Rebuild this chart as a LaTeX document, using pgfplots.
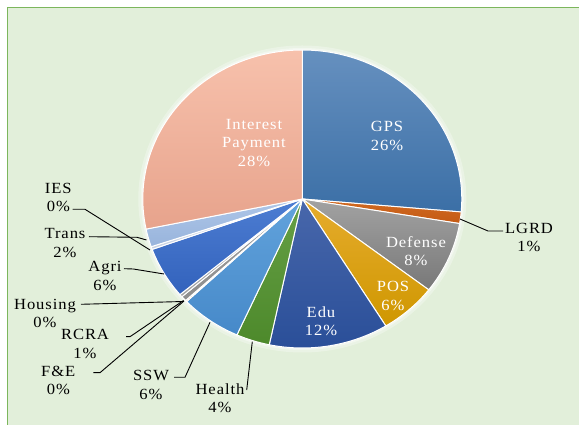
\documentclass[border=0pt]{standalone}
\usepackage{fontspec}
\newfontfamily\labfont{Liberation Serif}[FakeStretch=1.07,LetterSpace=6]
\usepackage{pgfplots}
\usepackage{pgfplotstable}
\pgfplotsset{compat=1.18}

\definecolor{bgc}{HTML}{E2EFDA}
\definecolor{framec}{HTML}{7CB65C}
% slice colours, top and bottom of each gradient, in table order
\definecolor{pieT0}{HTML}{6690BF}\definecolor{pieB0}{HTML}{3B6FA6}
\definecolor{pieT1}{HTML}{D06A22}\definecolor{pieB1}{HTML}{C45A14}
\definecolor{pieT2}{HTML}{A2A2A2}\definecolor{pieB2}{HTML}{787878}
\definecolor{pieT3}{HTML}{E6AC2E}\definecolor{pieB3}{HTML}{CF9700}
\definecolor{pieT4}{HTML}{4867AB}\definecolor{pieB4}{HTML}{294E98}
\definecolor{pieT5}{HTML}{66A046}\definecolor{pieB5}{HTML}{4D892B}
\definecolor{pieT6}{HTML}{62A3DC}\definecolor{pieB6}{HTML}{4689C9}
\definecolor{pieT7}{HTML}{E2762C}\definecolor{pieB7}{HTML}{D86A20}
\definecolor{pieT8}{HTML}{A0A0A0}\definecolor{pieB8}{HTML}{8E8E8E}
\definecolor{pieT9}{HTML}{B4B4B4}\definecolor{pieB9}{HTML}{A0A0A0}
\definecolor{pieT10}{HTML}{4D7DD2}\definecolor{pieB10}{HTML}{3262BC}
\definecolor{pieT11}{HTML}{D8DFEA}\definecolor{pieB11}{HTML}{C8D2E2}
\definecolor{pieT12}{HTML}{AEC6E8}\definecolor{pieB12}{HTML}{98B4DC}
\definecolor{pieT13}{HTML}{F7C1AC}\definecolor{pieB13}{HTML}{E7A38C}

% share of spending, clockwise from 12 o'clock
\pgfplotstableread{
name     value
GPS      26.4
LGRD     1.25
Defense  7.8
POS      5.8
Edu      12.1
Health   3.4
SSW      6.2
FE       0.15
RCRA     0.55
Housing  0.3
Agri     5.6
IES      0.3
Trans    1.95
Interest 28.25
}\piedata

\tikzset{
  inl/.style={font=\labfont\fontsize{15.5}{18.3}\selectfont,text=white,align=center,inner sep=0pt},
  outl/.style={font=\labfont\fontsize{15.5}{18.3}\selectfont,text=black,align=center,inner sep=0pt},
  lead/.style={black,line width=0.9pt},
}

\begin{document}
\begin{tikzpicture}
% start and end angle of every slice
\pgfplotstablegetrowsof{\piedata}
\pgfmathtruncatemacro{\lastrow}{\pgfplotsretval-1}
\def\pietotal{0}
\pgfplotsforeachungrouped \i in {0,...,\lastrow}{%
  \pgfplotstablegetelem{\i}{value}\of\piedata
  \pgfmathsetmacro{\pietotal}{\pietotal+\pgfplotsretval}%
}
\def\curang{90}
\pgfplotsforeachungrouped \i in {0,...,\lastrow}{%
  \pgfplotstablegetelem{\i}{value}\of\piedata
  \pgfmathsetmacro{\nextang}{\curang-\pgfplotsretval/\pietotal*360}%
  \expandafter\xdef\csname pieS\i\endcsname{\curang}%
  \expandafter\xdef\csname pieE\i\endcsname{\nextang}%
  \global\let\curang\nextang
}
\begin{axis}[x=1pt,y=1pt,xmin=0,xmax=579,ymin=0,ymax=425,hide axis]
\fill[white] (axis cs:0,0) rectangle (axis cs:579,425);
\fill[bgc] (axis cs:7.3,0) rectangle (axis cs:579,417.3);
\draw[framec,line width=1.3pt] (axis cs:7.3,0) -- (axis cs:7.3,417.3) -- (axis cs:579,417.3);
% soft glow round the pie
\fill[white,opacity=0.3] (axis cs:302.3,226) ellipse [x radius=164pt,y radius=153.5pt];
\fill[white,opacity=0.4] (axis cs:302.3,226) ellipse [x radius=161.5pt,y radius=151pt];
\pgfplotsinvokeforeach{0,...,\lastrow}{
  \path[top color=pieT#1,bottom color=pieB#1,draw=white,line width=1pt,line join=round]
    (axis cs:302.3,226) -- ++(\csname pieS#1\endcsname:159.5pt and 149pt)
    arc[start angle=\csname pieS#1\endcsname,end angle=\csname pieE#1\endcsname,
        x radius=159.5pt,y radius=149pt] -- cycle;
}
% labels inside
\node[inl] at (axis cs:387,289) {GPS\\26\%};
\node[inl] at (axis cs:254,282) {Interest\\Payment\\28\%};
\node[inl] at (axis cs:416,174) {Defense\\8\%};
\node[inl] at (axis cs:393,129) {POS\\6\%};
\node[inl] at (axis cs:321,104) {Edu\\12\%};
% labels outside, with leader lines
\node[outl] at (axis cs:529,187.5) {LGRD\\1\%};
\draw[lead] (axis cs:460,206) -- (axis cs:488,194) -- (axis cs:503,194);
\node[outl] at (axis cs:58.3,227.5) {IES\\0\%};
\draw[lead] (axis cs:72.7,215.7) -- (axis cs:85,215.7) -- (axis cs:150,175);
\node[outl] at (axis cs:65,182) {Trans\\2\%};
\draw[lead] (axis cs:89,188.3) -- (axis cs:137,187.7) -- (axis cs:146.5,185);
\node[outl] at (axis cs:105,149) {Agri\\6\%};
\draw[lead] (axis cs:124,156.3) -- (axis cs:133.3,156) -- (axis cs:164,151);
\node[outl] at (axis cs:45,111.5) {Housing\\0\%};
\draw[lead] (axis cs:81,120.7) -- (axis cs:183,123.5);
\node[outl] at (axis cs:85,81) {RCRA\\1\%};
\draw[lead] (axis cs:126,88.3) -- (axis cs:130,88.3) -- (axis cs:183.5,124.5);
\node[outl] at (axis cs:58.3,44.5) {F\&E\\0\%};
\draw[lead] (axis cs:93.3,52.3) -- (axis cs:100,52.3) -- (axis cs:184,124);
\node[outl] at (axis cs:151,40) {SSW\\6\%};
\draw[lead] (axis cs:174,47.7) -- (axis cs:185,47.7) -- (axis cs:210,102.7);
\node[outl] at (axis cs:220,26.7) {Health\\4\%};
\draw[lead] (axis cs:246.7,35) -- (axis cs:252.3,83.3);
\end{axis}
\end{tikzpicture}
\end{document}
